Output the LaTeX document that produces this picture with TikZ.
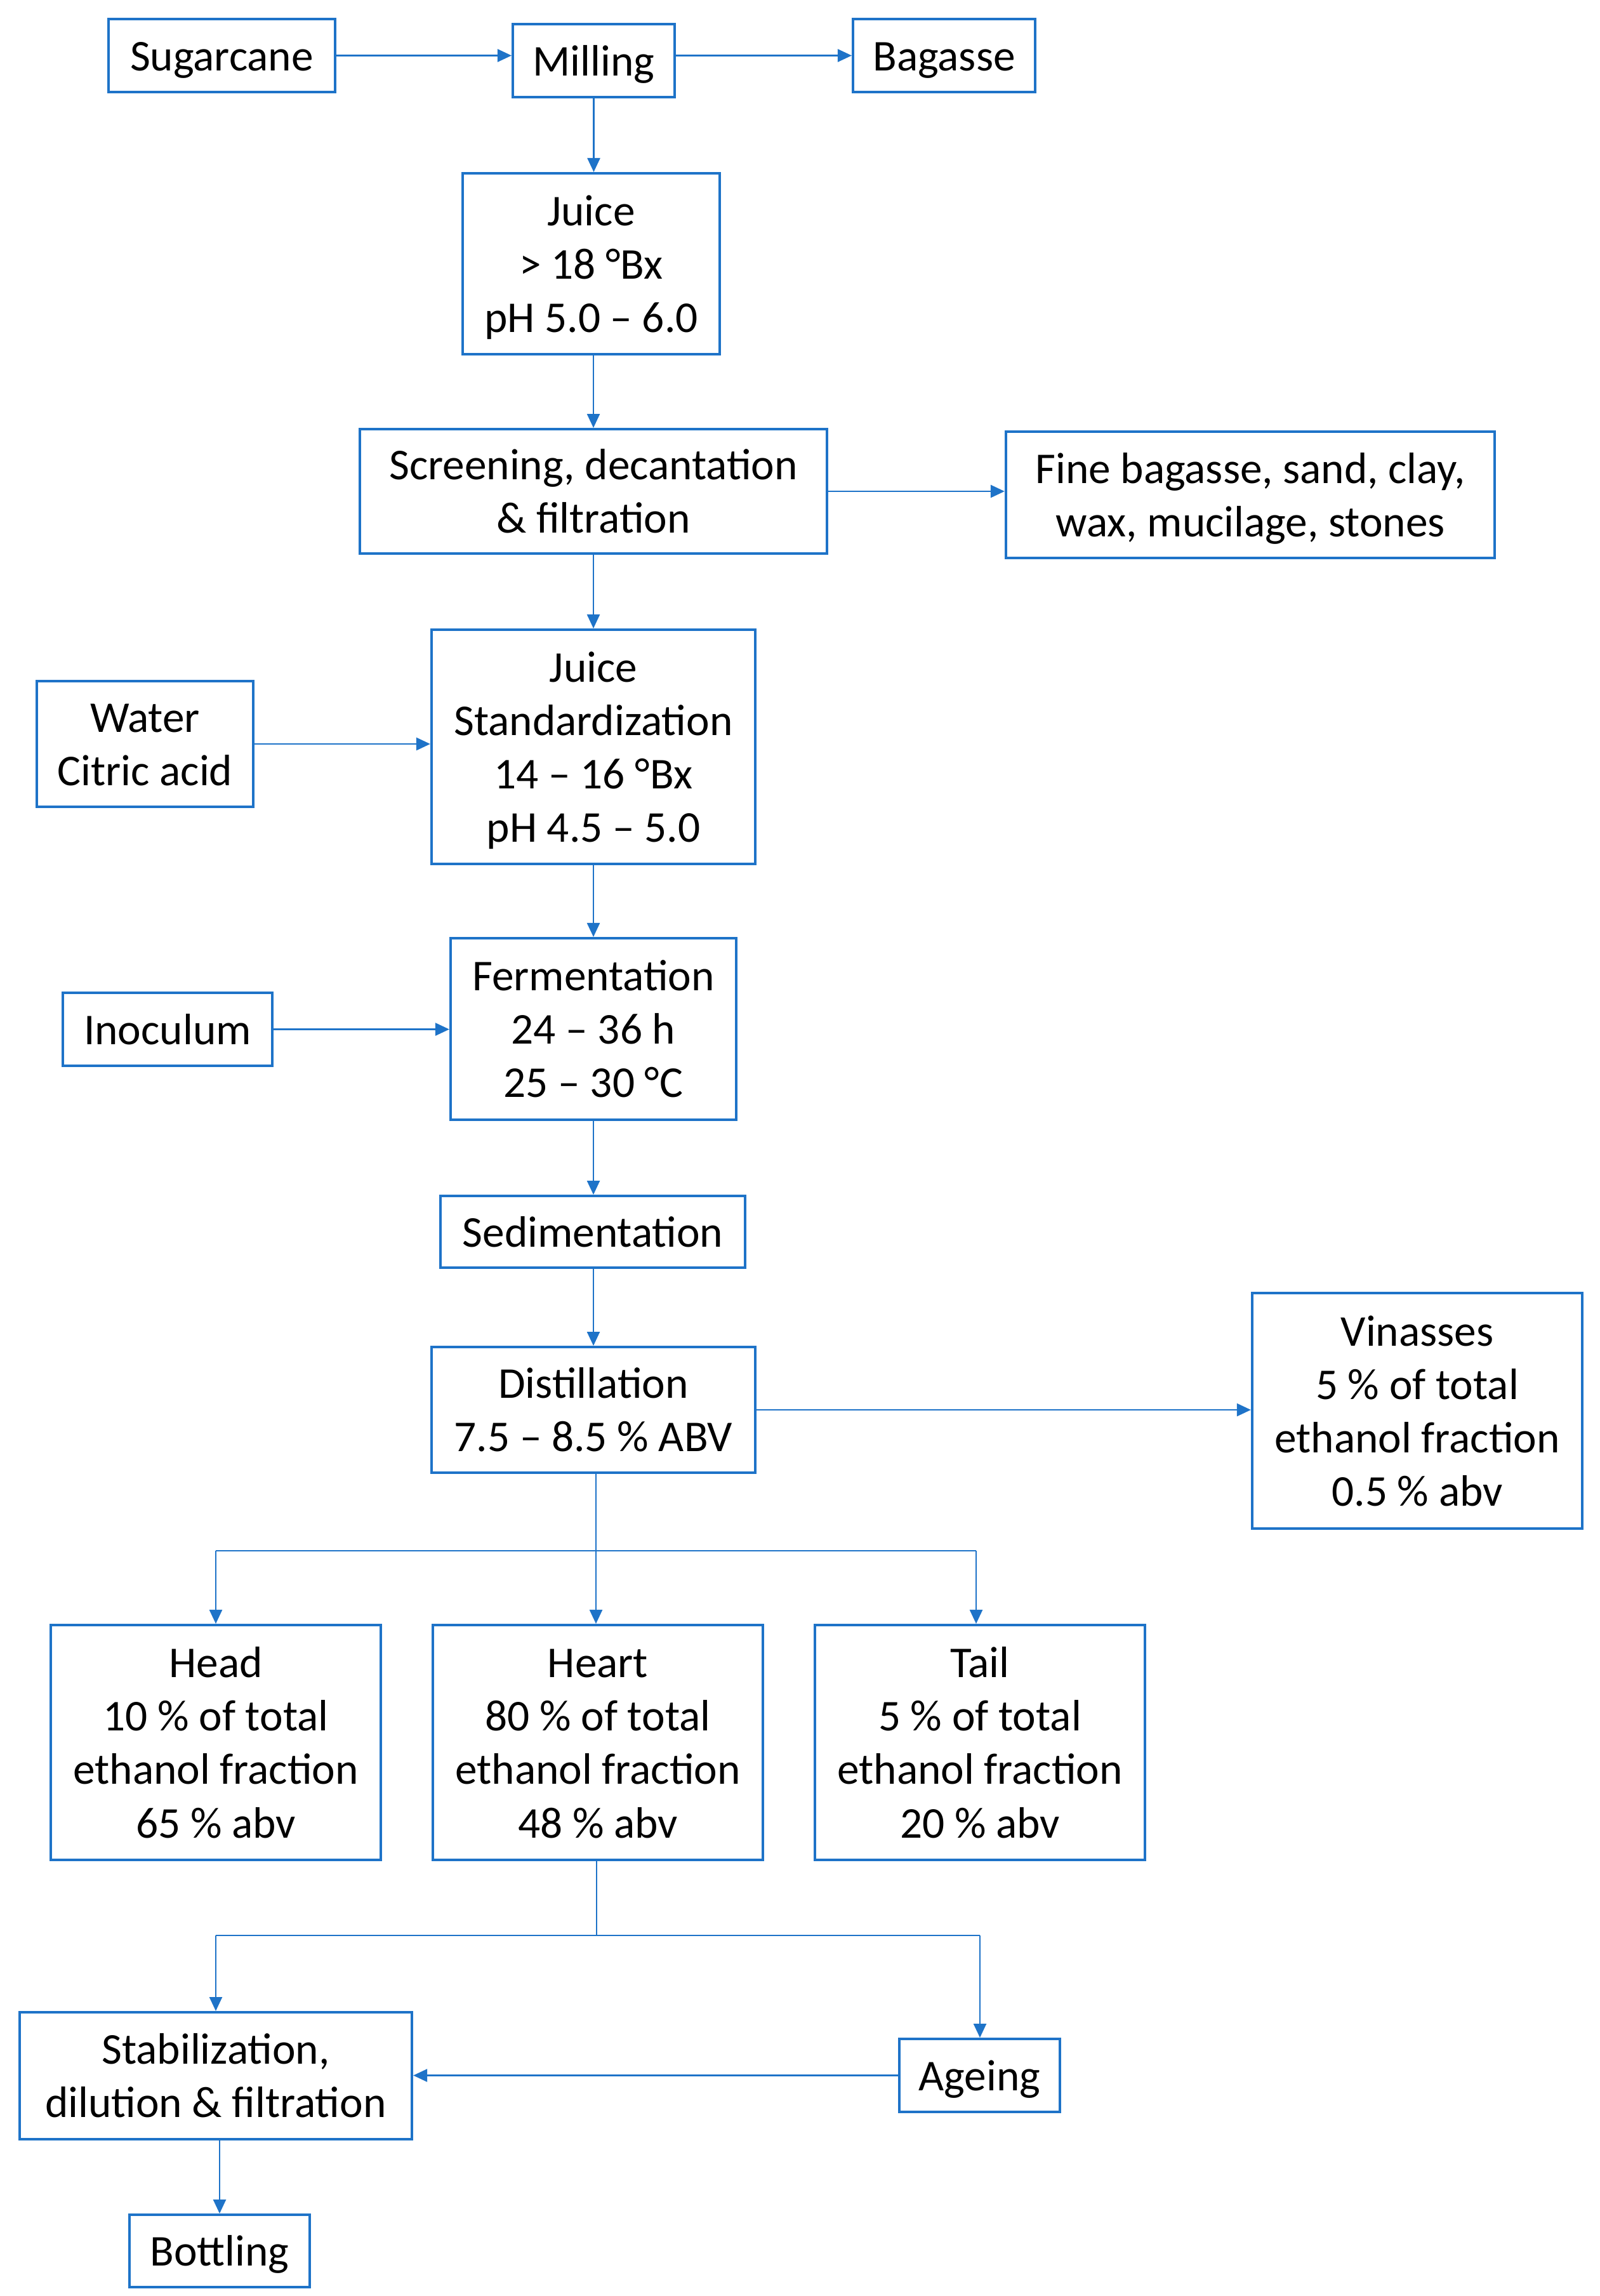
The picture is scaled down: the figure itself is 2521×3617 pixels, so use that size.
\documentclass[tikz,border=0pt]{standalone}
\usepackage{fontspec}
\setmainfont{Carlito}
\usetikzlibrary{arrows.meta}
\definecolor{flowblue}{RGB}{30,115,200}
\newcommand\Tst{\rule{0pt}{18.6pt}}
\newcommand\Bst{\rule[-5pt]{0pt}{5pt}}
\tikzset{
  box/.style={draw=flowblue, line width=1.1pt, align=center, inner sep=0pt,
    font=\fontsize{19.7}{23.9}\selectfont, text=black},
  conn/.style={draw=flowblue, line width=0.7pt},
  arr/.style={conn, -{Triangle[length=2.2mm,width=2mm]}}
}
\begin{document}
\begin{tikzpicture}[x=0.01cm,y=-0.01cm]
\useasboundingbox (0,0) rectangle (2521,3617);
% nodes
\node[box, minimum width=3.57cm, minimum height=1.15cm] (sug) at (349.5,87.5) {\Tst Sugarcane\Bst};
\node[box, minimum width=2.55cm, minimum height=1.15cm] (mill) at (935.5,95.5) {\Tst Milling\Bst};
\node[box, minimum width=2.87cm, minimum height=1.15cm] (bag) at (1487.5,87.5) {\Tst Bagasse\Bst};
\node[box, minimum width=4.05cm, minimum height=2.85cm] (juice) at (931.5,415.5) {\Tst Juice\\> 18 °Bx\\pH 5.0 – 6.0\Bst};
\node[box, minimum width=7.36cm, minimum height=1.96cm] (screen) at (935,774) {\Tst Screening, decantation\\\& filtration\Bst};
\node[box, minimum width=7.70cm, minimum height=1.99cm] (fine) at (1970,779.5) {\Tst Fine bagasse, sand, clay,\\wax, mucilage, stones\Bst};
\node[box, minimum width=5.10cm, minimum height=3.69cm] (std) at (935,1176.5) {\Tst Juice\\Standardization\\14 – 16 °Bx\\pH 4.5 – 5.0\Bst};
\node[box, minimum width=3.41cm, minimum height=1.98cm] (water) at (228.5,1172) {\Tst Water\\Citric acid\Bst};
\node[box, minimum width=4.50cm, minimum height=2.86cm] (ferm) at (935,1621) {\Tst Fermentation\\24 – 36 h\\25 – 30 °C\Bst};
\node[box, minimum width=3.30cm, minimum height=1.15cm] (inoc) at (264,1621.5) {\Tst Inoculum\Bst};
\node[box, minimum width=4.80cm, minimum height=1.13cm] (sed) at (934,1940.5) {\Tst Sedimentation\Bst};
\node[box, minimum width=5.10cm, minimum height=1.98cm] (dist) at (935,2221) {\Tst Distillation\\7.5 – 8.5 \% ABV\Bst};
\node[box, minimum width=5.20cm, minimum height=3.71cm] (vin) at (2233,2222.5) {\Tst Vinasses\\5 \% of total\\ethanol fraction\\0.5 \% abv\Bst};
\node[box, minimum width=5.20cm, minimum height=3.70cm] (head) at (340,2745) {\Tst Head\\10 \% of total\\ethanol fraction\\65 \% abv\Bst};
\node[box, minimum width=5.20cm, minimum height=3.70cm] (heart) at (942,2745) {\Tst Heart\\80 \% of total\\ethanol fraction\\48 \% abv\Bst};
\node[box, minimum width=5.20cm, minimum height=3.70cm] (tail) at (1544,2745) {\Tst Tail\\5 \% of total\\ethanol fraction\\20 \% abv\Bst};
\node[box, minimum width=6.18cm, minimum height=2.00cm] (stab) at (340,3270) {\Tst Stabilization,\\dilution \& filtration\Bst};
\node[box, minimum width=2.53cm, minimum height=1.15cm] (age) at (1543.5,3269.5) {\Tst Ageing\Bst};
\node[box, minimum width=2.84cm, minimum height=1.14cm] (bot) at (346,3546) {\Tst Bottling\Bst};
% coordinates
\coordinate (b1) at (939,2443);
\coordinate (b1l) at (340,2443);
\coordinate (b1r) at (1538,2443);
\coordinate (b2) at (940,3049);
\coordinate (b2l) at (340,3049);
\coordinate (b2r) at (1544,3049);
% connectors
\draw[arr] (sug.east) -- (sug.east -| mill.west);
\draw[arr] (bag.west -| mill.east) -- (bag.west);
\draw[arr] (mill.south) -- (mill.south |- juice.north);
\draw[arr] (juice.south -| 935,0) -- (screen.north);
\draw[arr] (screen.south) -- (std.north);
\draw[arr] (screen.east) -- (screen.east -| fine.west);
\draw[arr] (water.east) -- (water.east -| std.west);
\draw[arr] (std.south) -- (ferm.north);
\draw[arr] (inoc.east) -- (inoc.east -| ferm.west);
\draw[arr] (ferm.south) -- (sed.north -| ferm.south);
\draw[arr] (sed.south -| dist.south) -- (dist.north);
\draw[arr] (dist.east) -- (dist.east -| vin.west);
\draw[conn] (dist.south -| b1) -- (b1);
\draw[conn] (b1l) -- (b1r);
\draw[arr] (b1) -- (b1 |- heart.north);
\draw[arr] (b1l) -- (b1l |- head.north);
\draw[arr] (b1r) -- (b1r |- tail.north);
\draw[conn] (heart.south -| b2) -- (b2);
\draw[conn] (b2l) -- (b2r);
\draw[arr] (b2l) -- (b2l |- stab.north);
\draw[arr] (b2r) -- (b2r |- age.north);
\draw[arr] (age.west) -- (age.west -| stab.east);
\draw[arr] (bot.north |- stab.south) -- (bot.north);
\end{tikzpicture}
\end{document}
